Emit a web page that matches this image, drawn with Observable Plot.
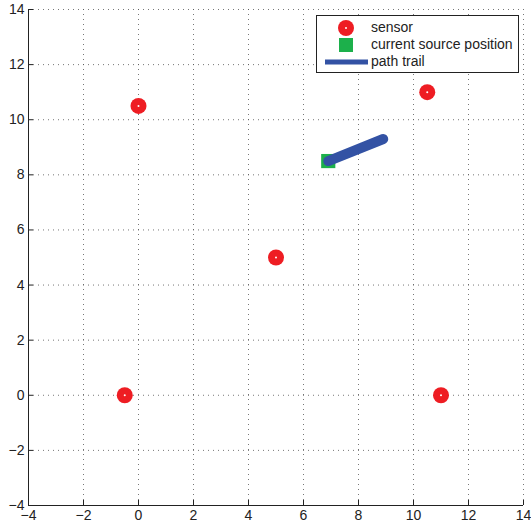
<!DOCTYPE html>
<html><head><meta charset="utf-8">
<script src="https://cdn.jsdelivr.net/npm/d3@7"></script>
<script src="https://cdn.jsdelivr.net/npm/@observablehq/plot@0.6"></script>
<style>
body{margin:0;background:#fff;font-family:"Liberation Sans",Arial,sans-serif;}
#wrap{position:relative;width:531px;height:524px;}
#legend{position:absolute;left:316px;top:15px;width:201px;height:56px;border:1px solid #222;background:#fff;font-size:14px;color:#222;}
#legend .row{position:absolute;left:0;height:17px;width:201px;}
#legend .row span{position:absolute;left:54px;top:0;line-height:17px;}
#legend svg{position:absolute;left:0;top:0;}
</style></head>
<body><div id="wrap"><div id="chart"></div>
<div id="legend">
 <div class="row" style="top:3px"><svg width="54" height="17"><circle cx="29" cy="9" r="8" fill="#ee1d23"/><circle cx="29" cy="9" r="1" fill="#fff"/></svg><span>sensor</span></div>
 <div class="row" style="top:20px"><svg width="54" height="17"><rect x="22" y="2" width="14" height="14" fill="#1cb04b"/></svg><span>current source position</span></div>
 <div class="row" style="top:37px"><svg width="54" height="17"><line x1="8" x2="51" y1="9" y2="9" stroke="#3352a4" stroke-width="5"/></svg><span>path trail</span></div>
</div></div>
<script>
const sensorX = [0, 10.5, 5, -0.5, 11];
const sensorY = [10.5, 11, 5, 0, 0];
const sourceX = [6.9];
const sourceY = [8.5];
const trailX = [6.9, 8.9];
const trailY = [8.5, 9.3];
const ticks = [-4, -2, 0, 2, 4, 6, 8, 10, 12, 14];

const sensors = sensorX.map((x, i) => ({x, y: sensorY[i]}));
const source = sourceX.map((x, i) => ({x, y: sourceY[i]}));
const trail = trailX.map((x, i) => ({x, y: trailY[i]}));

const chart = Plot.plot({
  width: 531, height: 524,
  marginLeft: 28, marginRight: 8, marginTop: 9, marginBottom: 19,
  style: {fontFamily: '"Liberation Sans", Arial, sans-serif', fontSize: "14px", color: "#222", background: "#fff"},
  x: {domain: [-4, 14], ticks},
  y: {domain: [-4, 14], ticks},
  marks: [
    Plot.gridX(ticks, {stroke: "#555", strokeOpacity: 0.8, strokeDasharray: "1,4"}),
    Plot.gridY(ticks, {stroke: "#555", strokeOpacity: 0.8, strokeDasharray: "1,4"}),
    Plot.axisX(ticks, {tickSize: -5, tickPadding: 10, stroke: "#222", label: null, fontSize: 14}),
    Plot.axisY(ticks, {tickSize: -5, tickPadding: 9, stroke: "#222", label: null, fontSize: 14}),
    Plot.ruleX([-4], {stroke: "#222"}),
    Plot.ruleY([-4], {stroke: "#222"}),
    Plot.dot(source, {x: "x", y: "y", symbol: "square", r: 8, fill: "#1cb04b"}),
    Plot.line(trail, {x: "x", y: "y", stroke: "#3352a4", strokeWidth: 10, strokeLinecap: "round"}),
    Plot.dot(sensors, {x: "x", y: "y", r: 8, fill: "#ee1d23"}),
    Plot.dot(sensors, {x: "x", y: "y", r: 1, fill: "#fff"})
  ]
});
document.getElementById("chart").appendChild(chart);
</script></body></html>
